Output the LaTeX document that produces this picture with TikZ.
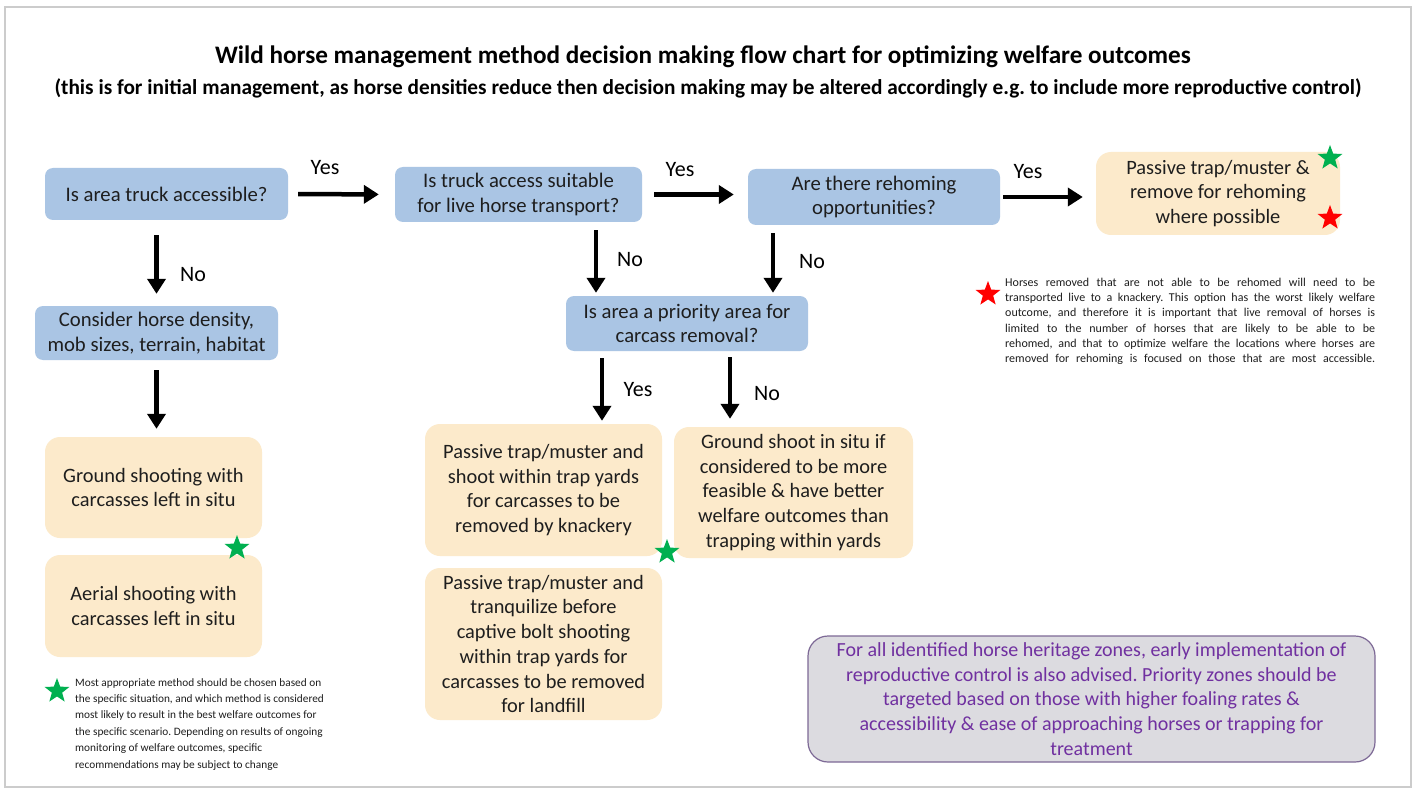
\documentclass[tikz,border=0pt]{standalone}
\usepackage{fontspec}
\setmainfont{Carlito}
\usetikzlibrary{arrows.meta,shapes.geometric}
\frenchspacing
\definecolor{qblue}{RGB}{170,197,228}
\definecolor{aorange}{RGB}{252,234,203}
\definecolor{ppurple}{RGB}{112,48,160}
\definecolor{pfill}{RGB}{220,219,224}
\definecolor{pborder}{RGB}{125,105,150}
\definecolor{sgreen}{RGB}{0,176,80}
\definecolor{txt}{RGB}{30,30,30}
\newcommand{\jline}[1]{\hbox to 370pt{#1}}
\tikzset{
  qbox/.style={fill=qblue, rounded corners=8pt, align=center, inner sep=0pt, text=txt, font=\fontsize{20.7}{24.5}\selectfont},
  abox/.style={fill=aorange, rounded corners=15pt, align=center, inner sep=0pt, text=txt, font=\fontsize{20.4}{24.7}\selectfont},
  arr/.style={line width=4.5pt, -{Triangle[length=15pt,width=18pt]}},
  lbl/.style={font=\fontsize{22}{25}\selectfont, inner sep=0pt},
  gstar/.style={star, star points=5, star point ratio=2.4, fill=sgreen, inner sep=0pt, minimum size=26pt},
  rstar/.style={star, star points=5, star point ratio=2.4, fill=red, inner sep=0pt, minimum size=26pt},
  note/.style={inner sep=0pt, anchor=north west, text=txt}
}
\begin{document}
\begin{tikzpicture}[x=1pt,y=-1pt]
\useasboundingbox (0,0) rectangle (1418,794);
\fill[white] (0,0) rectangle (1418,794);
\draw[gray!40, line width=1.5pt] (5,7) rectangle (1411,787);

% title
\node[font=\bfseries\fontsize{25.2}{28}\selectfont, inner sep=0pt] (title) at (703,57) {Wild horse management method decision making flow chart for optimizing welfare outcomes};
\node[font=\bfseries\fontsize{21.3}{24}\selectfont, inner sep=0pt] (sub) at (708,88) {(this is for initial management, as horse densities reduce then decision making may be altered accordingly e.g. to include more reproductive control)};

% question boxes
\node[qbox, minimum width=243pt, minimum height=52pt] (A) at (166.5,194) {Is area truck accessible?};
\node[qbox, minimum width=247pt, minimum height=55pt] (B) at (518.5,194.5) {Is truck access suitable\\for live horse transport?};
\node[qbox, minimum width=252pt, minimum height=56pt] (C) at (874,197) {Are there rehoming\\opportunities?};
\node[qbox, minimum width=243pt, minimum height=54pt] (E) at (156.5,333) {Consider horse density,\\mob sizes, terrain, habitat};
\node[qbox, minimum width=242pt, minimum height=55pt] (H) at (687,323.5) {Is area a priority area for\\carcass removal?};

% action boxes
\node[abox, minimum width=244pt, minimum height=83pt] (D) at (1218,193.5) {Passive trap/muster \&\\remove for rehoming\\where possible};
\node[abox, minimum width=217pt, minimum height=101pt] (F) at (153.5,487.5) {Ground shooting with\\carcasses left in situ};
\node[abox, minimum width=217pt, minimum height=102pt] (G) at (153.5,606) {Aerial shooting with\\carcasses left in situ};
\node[abox, minimum width=237pt, minimum height=132pt] (I) at (543.5,490) {Passive trap/muster and\\shoot within trap yards\\for carcasses to be\\removed by knackery};
\node[abox, minimum width=239pt, minimum height=131pt] (J) at (793.5,492.5) {Ground shoot in situ if\\considered to be more\\feasible \& have better\\welfare outcomes than\\trapping within yards};
\node[abox, minimum width=237pt, minimum height=152pt] (K) at (543.5,644) {Passive trap/muster and\\tranquilize before\\captive bolt shooting\\within trap yards for\\carcasses to be removed\\for landfill};

% purple box
\node[fill=pfill, draw=pborder, line width=1.2pt, rounded corners=20pt, minimum width=567pt, minimum height=126pt, align=center, text=ppurple, font=\fontsize{20}{24.7}\selectfont, inner sep=0pt] (P) at (1091.5,699) {For all identified horse heritage zones, early implementation of\\reproductive control is also advised. Priority zones should be\\targeted based on those with higher foaling rates \&\\accessibility \& ease of approaching horses or trapping for\\treatment};

% horizontal arrows
\draw[arr, shorten <=10pt, shorten >=16pt] (A.east) -- (B.west);
\draw[arr, shorten <=12pt, shorten >=14pt] (B.east) -- (B.east -| C.west);
\draw[arr, shorten <=3pt, shorten >=13pt] (C.east) -- (C.east -| D.west);
\node[lbl] (y1) at (325,168) {Yes};
\node[lbl] (y2) at (680,170) {Yes};
\node[lbl] (y3) at (1028,172) {Yes};

% vertical arrows
\draw[arr, shorten <=15pt, shorten >=12pt] (A.south -| E.north) -- (E.north);
\node[lbl] (n1) at (193,275) {No};
\draw[arr, shorten <=10pt, shorten >=8pt] (E.south) -- (E.south |- F.north);
\draw[arr, shorten <=8pt, shorten >=3pt] ([xshift=77.5pt]B.south) -- ([xshift=-91pt]H.north);
\node[lbl] (n2) at (630,260) {No};
\draw[arr, shorten <=8pt, shorten >=3pt] ([xshift=-101pt]C.south) -- ([xshift=86pt]H.north);
\node[lbl] (n3) at (812,262) {No};
\draw[arr, shorten <=7pt, shorten >=3pt] ([xshift=-85pt]H.south) -- ([xshift=58.5pt]I.north);
\node[lbl] (y4) at (638,390) {Yes};
\draw[arr, shorten <=6pt, shorten >=8pt] ([xshift=43pt]H.south) -- ([xshift=-63.5pt]J.north);
\node[lbl] (n4) at (767,394) {No};

% stars
\node[gstar] (s1) at (1330,158) {};
\node[rstar] (s2) at (1330,218) {};
\node[gstar] (s3) at (237,548) {};
\node[gstar] (s4) at (667,552) {};
\node[gstar] (s5) at (57,691) {};
\node[rstar] (s6) at (988,294) {};

% notes
\node[note, align=left, font=\fontsize{11.3}{16.4}\selectfont] (gn) at (75,678) {Most appropriate method should be chosen based on\\the specific situation, and which method is considered\\most likely to result in the best welfare outcomes for\\the specific scenario. Depending on results of ongoing\\monitoring of welfare outcomes, specific\\recommendations may be subject to change};
\node[note, font=\fontsize{12}{15.2}\selectfont] (rn) at (1005,278) {\vbox{%
\jline{Horses removed that are not able to be rehomed will need to be}
\jline{transported live to a knackery. This option has the worst likely welfare}
\jline{outcome, and therefore it is important that live removal of horses is}
\jline{limited to the number of horses that are likely to be able to be}
\jline{rehomed, and that to optimize welfare the locations where horses are}
\jline{removed for rehoming is focused on those that are most accessible.}}};
\end{tikzpicture}
\end{document}
